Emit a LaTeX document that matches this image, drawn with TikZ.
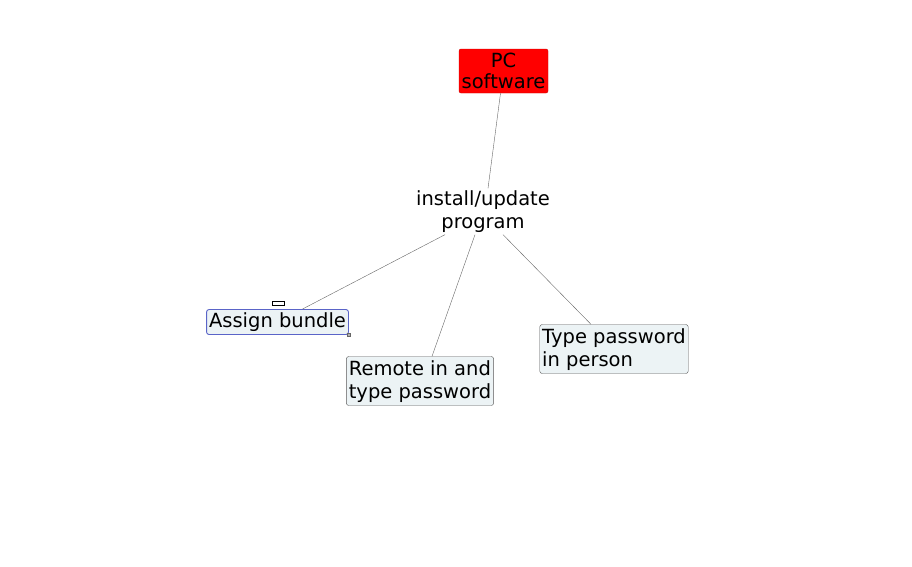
\documentclass[tikz,border=0pt]{standalone}
\usepackage{fontspec}
\setmainfont{DejaVu Sans}
\usetikzlibrary{positioning,calc}
\definecolor{leaffill}{RGB}{236,243,245}
\definecolor{selblue}{RGB}{90,100,200}

\begin{document}
\begin{tikzpicture}[
  x=1pt, y=-1pt,
  font=\fontsize{19.5}{23}\selectfont,
  root/.style={draw=red!80!black, rounded corners=2pt, fill=red, inner sep=1pt, align=center, minimum width=89pt, minimum height=44pt},
  topic/.style={inner sep=2pt, align=center},
  leaf/.style={draw=black!65, rounded corners=2.5pt, fill=leaffill, inner xsep=2.5pt, inner ysep=1pt, align=left, text depth=3pt},
  sel/.style={leaf, draw=selblue, line width=0.9pt},
  link/.style={draw=black!60, line width=0.4pt}
]
  \useasboundingbox (0,0) rectangle (912,566);

  % Root and central topic
  \node[root] (pc) at (503.5,71) {PC\\[-2pt]software};
  \node[topic] (inst) at (483,211.5) {install/update\\program};

  % Leaves
  \node[sel, minimum height=25pt] (assign) at (277.5,322) {Assign bundle};
  \node[leaf, minimum height=49pt] (remote) at (420,381) {Remote in and\\type password};
  \node[leaf, minimum height=49pt] (person) at (614,349) {Type password\\in person};

  % Small marks on the selected node
  \node[draw, fill=white, inner sep=0pt, minimum width=12pt, minimum height=4pt] (fold) at (278,303) {};
  \node[draw=black!60, fill=black!30, inner sep=0pt, minimum size=3pt] (grip) at (assign.south east) {};

  % Connectors
  \draw[link] ($(pc.south)+(-3,0)$) -- ($(inst.north)+(5,0)$);
  \draw[link] ($(inst.south)+(-38,0)$) -- ($(assign.north)+(25,0)$);
  \draw[link] ($(inst.south)+(-8,0)$) -- ($(remote.north)+(12,0)$);
  \draw[link] ($(inst.south)+(20,0)$) -- ($(person.north)+(-23,0)$);
\end{tikzpicture}
\end{document}
